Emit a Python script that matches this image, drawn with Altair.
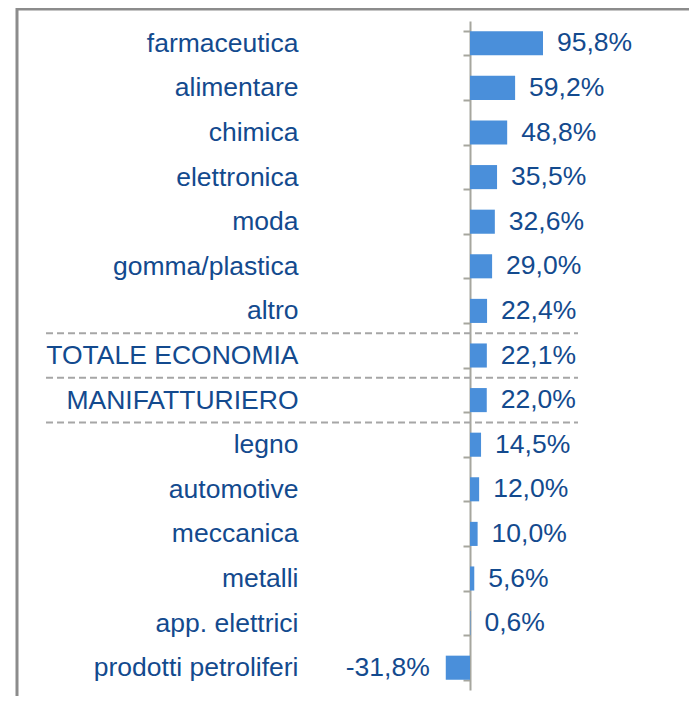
import altair as alt
import pandas as pd

categories = ["farmaceutica", "alimentare", "chimica", "elettronica", "moda",
              "gomma/plastica", "altro", "TOTALE ECONOMIA", "MANIFATTURIERO",
              "legno", "automotive", "meccanica", "metalli", "app. elettrici",
              "prodotti petroliferi"]
values = [95.8, 59.2, 48.8, 35.5, 32.6, 29.0, 22.4, 22.1, 22.0, 14.5, 12.0,
          10.0, 5.6, 0.6, -31.8]
separator_before = ["TOTALE ECONOMIA", "MANIFATTURIERO", "legno"]

BLUE_TEXT = "#134A8E"
BAR = "#4A8FDA"
AXIS_GREY = "#A6A69E"
FRAME = "#8C8C8C"
FONT = "Liberation Sans"

df = pd.DataFrame({"cat": categories, "value": values})
df["label"] = df["value"].map(lambda v: f"{v:.1f}".replace(".", ",") + "%")
sep = pd.DataFrame({"cat": separator_before})
one = pd.DataFrame({"a": [0]})

W, H = 219, 669

yscale = alt.Scale(domain=categories, paddingInner=0.46, paddingOuter=0.23)
xscale = alt.Scale(domain=[0, 287.4], nice=False, zero=True)

base = alt.Chart(df)

bars = base.mark_bar(color=BAR).encode(
    x=alt.X("value:Q", scale=xscale, axis=None),
    y=alt.Y("cat:N", scale=yscale, sort=categories,
            axis=alt.Axis(title=None, domain=True, domainColor=AXIS_GREY,
                          domainWidth=2, ticks=True,
                          tickColor=AXIS_GREY, tickWidth=2, tickSize=7,
                          tickBand="extent", labelFont=FONT, labelFontSize=26.5,
                          labelColor=BLUE_TEXT, labelPadding=165,
                          labelLimit=400, grid=False, labelAlign="right",
                          labelBaseline="middle")),
)

pos_text = base.transform_filter("datum.value >= 0").mark_text(
    align="left", baseline="middle", dx=14, font=FONT, fontSize=26.5,
    color=BLUE_TEXT
).encode(
    x=alt.X("value:Q", scale=xscale),
    y=alt.Y("cat:N", scale=yscale, sort=categories),
    text="label:N",
)

neg_text = base.transform_filter("datum.value < 0").mark_text(
    align="right", baseline="middle", dx=-16, font=FONT, fontSize=26.5,
    color=BLUE_TEXT
).encode(
    x=alt.X("value:Q", scale=xscale),
    y=alt.Y("cat:N", scale=yscale, sort=categories),
    text="label:N",
)

main = alt.layer(bars, pos_text, neg_text)

seps = alt.Chart(sep).mark_rule(color="#A6A6A6", strokeWidth=2,
                                strokeDash=[7, 4]).encode(
    y=alt.Y("cat:N", bandPosition=0, axis=None,
            scale=alt.Scale(domain=categories, paddingInner=0, paddingOuter=0)),
    x=alt.value(-424),
    x2=alt.value(108),
)

frame_left = alt.Chart(one).mark_rule(color=FRAME, strokeWidth=3).encode(
    x=alt.value(-453), y=alt.value(-13), y2=alt.value(H + 10)
)
frame_top = alt.Chart(one).mark_rule(color=FRAME, strokeWidth=3).encode(
    x=alt.value(-454), x2=alt.value(W), y=alt.value(-12)
)

chart = alt.layer(main, seps, frame_left, frame_top).resolve_scale(
    y="independent"
).properties(
    width=W, height=H,
    autosize=alt.AutoSizeParams(type="none"),
    padding={"left": 462, "top": 13, "right": 0, "bottom": 6},
).configure_view(stroke=None)

chart.save("out.html", embed_options={"renderer": "svg", "actions": False})
